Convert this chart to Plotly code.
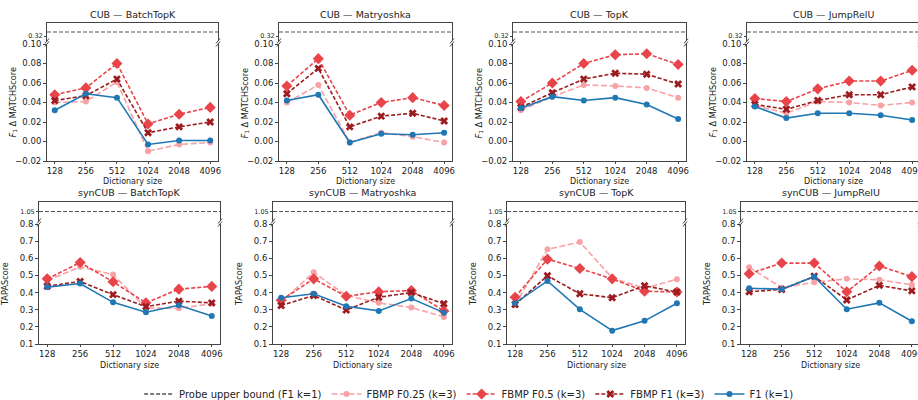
import plotly.graph_objects as go

# ---------------- data ----------------
DICT_SIZES = ["128", "256", "512", "1024", "2048", "4096"]
MODELS = ["BatchTopK", "Matryoshka", "TopK", "JumpRelU"]
DATASETS = ["CUB", "synCUB"]
SERIES = ["FBMP F0.25 (k=3)", "FBMP F0.5 (k=3)", "FBMP F1 (k=3)", "F1 (k=1)"]
PROBE_NAME = "Probe upper bound (F1 k=1)"
UPPER_BOUND = {"CUB": 0.3245, "synCUB": 1.05}
UPPER_TICK = {"CUB": 0.32, "synCUB": 1.05}
Y_TITLES = {"CUB": "<i>F</i><sub>1</sub> Δ MATCHScore", "synCUB": "TAPAScore"}

# CUB (F1 delta MATCHScore)
CUB_BATCHTOPK_F025 = [0.040, 0.041, 0.061, -0.010, -0.003, -0.001]
CUB_BATCHTOPK_F05 = [0.048, 0.055, 0.080, 0.018, 0.028, 0.035]
CUB_BATCHTOPK_F1 = [0.042, 0.047, 0.064, 0.009, 0.015, 0.020]
CUB_BATCHTOPK_K1 = [0.032, 0.049, 0.045, -0.003, 0.001, 0.001]

CUB_MATRYOSHKA_F025 = [0.040, 0.058, -0.001, 0.009, 0.005, -0.001]
CUB_MATRYOSHKA_F05 = [0.057, 0.085, 0.027, 0.040, 0.045, 0.037]
CUB_MATRYOSHKA_F1 = [0.049, 0.075, 0.015, 0.026, 0.029, 0.021]
CUB_MATRYOSHKA_K1 = [0.042, 0.048, -0.001, 0.008, 0.007, 0.009]

CUB_TOPK_F025 = [0.032, 0.046, 0.058, 0.057, 0.055, 0.045]
CUB_TOPK_F05 = [0.041, 0.060, 0.080, 0.089, 0.090, 0.079]
CUB_TOPK_F1 = [0.035, 0.050, 0.064, 0.070, 0.069, 0.059]
CUB_TOPK_K1 = [0.034, 0.046, 0.042, 0.045, 0.038, 0.023]

CUB_JUMPRELU_F025 = [0.037, 0.029, 0.041, 0.040, 0.037, 0.040]
CUB_JUMPRELU_F05 = [0.044, 0.041, 0.054, 0.062, 0.062, 0.073]
CUB_JUMPRELU_F1 = [0.038, 0.033, 0.042, 0.048, 0.048, 0.056]
CUB_JUMPRELU_K1 = [0.036, 0.024, 0.029, 0.029, 0.027, 0.022]

# synCUB (TAPAScore)
SYN_BATCHTOPK_F025 = [0.470, 0.550, 0.505, 0.310, 0.308, 0.335]
SYN_BATCHTOPK_F05 = [0.480, 0.575, 0.463, 0.340, 0.420, 0.436]
SYN_BATCHTOPK_F1 = [0.437, 0.465, 0.388, 0.318, 0.350, 0.340]
SYN_BATCHTOPK_K1 = [0.432, 0.453, 0.343, 0.285, 0.326, 0.264]

SYN_MATRYOSHKA_F025 = [0.345, 0.518, 0.383, 0.340, 0.313, 0.258]
SYN_MATRYOSHKA_F05 = [0.355, 0.480, 0.378, 0.405, 0.412, 0.293]
SYN_MATRYOSHKA_F1 = [0.325, 0.383, 0.298, 0.373, 0.400, 0.335]
SYN_MATRYOSHKA_K1 = [0.370, 0.393, 0.320, 0.293, 0.365, 0.283]

SYN_TOPK_F025 = [0.328, 0.652, 0.695, 0.485, 0.425, 0.478]
SYN_TOPK_F05 = [0.373, 0.595, 0.540, 0.480, 0.408, 0.403]
SYN_TOPK_F1 = [0.330, 0.498, 0.393, 0.370, 0.440, 0.403]
SYN_TOPK_K1 = [0.338, 0.468, 0.302, 0.178, 0.235, 0.338]

SYN_JUMPRELU_F025 = [0.548, 0.428, 0.460, 0.480, 0.475, 0.445]
SYN_JUMPRELU_F05 = [0.510, 0.572, 0.572, 0.405, 0.555, 0.493]
SYN_JUMPRELU_F1 = [0.405, 0.418, 0.495, 0.357, 0.442, 0.410]
SYN_JUMPRELU_K1 = [0.425, 0.420, 0.493, 0.303, 0.340, 0.233]

PANEL_DATA = {
    ("CUB", "BatchTopK"): [CUB_BATCHTOPK_F025, CUB_BATCHTOPK_F05, CUB_BATCHTOPK_F1, CUB_BATCHTOPK_K1],
    ("CUB", "Matryoshka"): [CUB_MATRYOSHKA_F025, CUB_MATRYOSHKA_F05, CUB_MATRYOSHKA_F1, CUB_MATRYOSHKA_K1],
    ("CUB", "TopK"): [CUB_TOPK_F025, CUB_TOPK_F05, CUB_TOPK_F1, CUB_TOPK_K1],
    ("CUB", "JumpRelU"): [CUB_JUMPRELU_F025, CUB_JUMPRELU_F05, CUB_JUMPRELU_F1, CUB_JUMPRELU_K1],
    ("synCUB", "BatchTopK"): [SYN_BATCHTOPK_F025, SYN_BATCHTOPK_F05, SYN_BATCHTOPK_F1, SYN_BATCHTOPK_K1],
    ("synCUB", "Matryoshka"): [SYN_MATRYOSHKA_F025, SYN_MATRYOSHKA_F05, SYN_MATRYOSHKA_F1, SYN_MATRYOSHKA_K1],
    ("synCUB", "TopK"): [SYN_TOPK_F025, SYN_TOPK_F05, SYN_TOPK_F1, SYN_TOPK_K1],
    ("synCUB", "JumpRelU"): [SYN_JUMPRELU_F025, SYN_JUMPRELU_F05, SYN_JUMPRELU_F1, SYN_JUMPRELU_K1],
}

# ---------------- styling ----------------
W, H = 918, 400
FONT = "DejaVu Sans"
TXT = "#222222"
SPINE = "#444444"
COLORS = ["#f8a2a6", "#e8444a", "#9c1c20", "#1f77b4"]
SYMBOLS = ["circle", "diamond", "x", "circle"]
SIZES = [6, 8.5, 7, 6]
DASHES = ["6px,2.5px", "4px,2px", "4px,2px", "solid"]

# pixel geometry (left, right) per column, per row; (top, bottom) of panels
COL_PX = {
    "CUB": [(47, 218), (279, 452), (513, 686), (747, 920)],
    "synCUB": [(39, 220), (273, 452), (507, 685), (741, 920)],
}
ROW_PX = {
    "CUB": {"upper": (23, 41), "main": (44, 161), "title": 15, "xtitle": 181},
    "synCUB": {"upper": (202, 221), "main": (224, 344), "title": 193, "xtitle": 365},
}
MAIN_RANGE = {"CUB": [-0.02, 0.10], "synCUB": [0.1, 0.8]}
MAIN_TICKS = {
    "CUB": [-0.02, 0.0, 0.02, 0.04, 0.06, 0.08, 0.10],
    "synCUB": [0.1, 0.2, 0.3, 0.4, 0.5, 0.6, 0.7, 0.8],
}
MAIN_FMT = {"CUB": ".2f", "synCUB": ".1f"}
UPPER_HALF = {"CUB": 0.010, "synCUB": 0.05}
XR = (-0.25, 5.25)


def px_x(p):
    return p / W


def px_y(p):
    return 1 - p / H


def sfx(n):
    return "" if n == 1 else str(n)


fig = go.Figure()
layout = {}
shapes = []
annotations = []

ax_n = 0
for di, ds in enumerate(DATASETS):
    for mi, model in enumerate(MODELS):
        left, right = COL_PX[ds][mi]
        clipped = right > W
        dom_r = min(right, W)
        xr_hi = XR[0] + (XR[1] - XR[0]) * (dom_r - left) / (right - left)
        xdom = [px_x(left), px_x(dom_r)]
        ut, ub = ROW_PX[ds]["upper"]
        mt, mb = ROW_PX[ds]["main"]

        ua = sfx(ax_n + 1)
        ma = sfx(ax_n + 2)
        ax_n += 2

        # upper (probe) axis
        layout[f"xaxis{ua}"] = dict(
            domain=xdom, anchor=f"y{ua}", range=[XR[0], xr_hi], side="top",
            showline=True, linecolor=SPINE, linewidth=1, mirror=False,
            showticklabels=False, ticks="", showgrid=False, zeroline=False,
        )
        ub_val = UPPER_BOUND[ds]
        layout[f"yaxis{ua}"] = dict(
            domain=[px_y(ub), px_y(ut)], anchor=f"x{ua}",
            range=[ub_val - UPPER_HALF[ds], ub_val + UPPER_HALF[ds]],
            tickvals=[UPPER_TICK[ds]], ticktext=[f"{UPPER_TICK[ds]:.2f}"],
            tickfont=dict(family=FONT, size=6.5, color=TXT),
            ticks="outside", ticklen=2, tickcolor=SPINE,
            showline=True, linecolor=SPINE, linewidth=1, mirror=not clipped,
            showgrid=False, zeroline=False,
        )
        # main axis
        layout[f"xaxis{ma}"] = dict(
            domain=xdom, anchor=f"y{ma}", range=[XR[0], xr_hi],
            tickvals=list(range(len(DICT_SIZES))), ticktext=DICT_SIZES,
            tickfont=dict(family=FONT, size=8.5, color=TXT),
            ticks="outside", ticklen=2, tickcolor=SPINE, ticklabeloverflow="allow",
            showline=True, linecolor=SPINE, linewidth=1, mirror=False,
            showgrid=False, zeroline=False,
        )
        layout[f"yaxis{ma}"] = dict(
            domain=[px_y(mb), px_y(mt)], anchor=f"x{ma}",
            range=MAIN_RANGE[ds], tickvals=MAIN_TICKS[ds], tickformat=MAIN_FMT[ds],
            tickfont=dict(family=FONT, size=8.5, color=TXT),
            ticks="outside", ticklen=3, tickcolor=SPINE,
            showline=True, linecolor=SPINE, linewidth=1, mirror=not clipped,
            showgrid=False, zeroline=False,
        )

        first = (di == 0 and mi == 0)
        # probe upper bound line
        shapes.append(dict(
            type="line", xref=f"x{ua} domain", yref=f"y{ua}", x0=0, x1=1,
            y0=ub_val, y1=ub_val, line=dict(color="#555555", width=1.2, dash="4px,2px"),
        ))
        if first:
            fig.add_trace(go.Scatter(
                x=[None], y=[None], mode="lines", name=PROBE_NAME,
                line=dict(color="#555555", width=1.4, dash="4px,2px"),
                xaxis=f"x{ua}", yaxis=f"y{ua}", showlegend=True,
            ))

        xs = list(range(len(DICT_SIZES)))
        for si, name in enumerate(SERIES):
            fig.add_trace(go.Scatter(
                x=xs, y=PANEL_DATA[(ds, model)][si], mode="lines+markers", name=name,
                legendgroup=name, showlegend=first,
                line=dict(color=COLORS[si], width=1.6, dash=DASHES[si]),
                marker=dict(color=COLORS[si], symbol=SYMBOLS[si], size=SIZES[si],
                            line=dict(width=0)),
                xaxis=f"x{ma}", yaxis=f"y{ma}", cliponaxis=False,
            ))

        # break marks
        for xp in (left, right):
            for yp in (ub, mt):
                shapes.append(dict(
                    type="line", xref="paper", yref="paper",
                    x0=px_x(xp - 2), y0=px_y(yp + 2.5), x1=px_x(xp + 2), y1=px_y(yp - 2.5),
                    line=dict(color=SPINE, width=1),
                ))

        cx = px_x((left + right) / 2)
        annotations.append(dict(
            text=f"{ds} — {model}", x=cx, y=px_y(ROW_PX[ds]["title"]),
            xref="paper", yref="paper", showarrow=False, xanchor="center", yanchor="middle",
            font=dict(family=FONT, size=9.5, color=TXT),
        ))
        annotations.append(dict(
            text="Dictionary size", x=cx, y=px_y(ROW_PX[ds]["xtitle"]),
            xref="paper", yref="paper", showarrow=False, xanchor="center", yanchor="middle",
            font=dict(family=FONT, size=8, color=TXT),
        ))
        annotations.append(dict(
            text=Y_TITLES[ds], x=px_x(left - 34), y=px_y((mt + mb) / 2),
            xref="paper", yref="paper", showarrow=False, xanchor="center", yanchor="middle",
            textangle=-90, font=dict(family=FONT, size=8.2, color=TXT),
        ))

fig.update_layout(
    **layout,
    shapes=shapes,
    annotations=annotations,
    width=W, height=H,
    margin=dict(l=0, r=0, t=0, b=0, autoexpand=False),
    paper_bgcolor="white", plot_bgcolor="white",
    font=dict(family=FONT, size=9, color=TXT),
    legend=dict(
        orientation="h", x=0.511, xanchor="center", y=px_y(394), yanchor="middle",
        font=dict(family=FONT, size=10, color=TXT), bgcolor="rgba(0,0,0,0)",
        itemwidth=30, tracegroupgap=0,
    ),
)

fig.write_html("out.html")
